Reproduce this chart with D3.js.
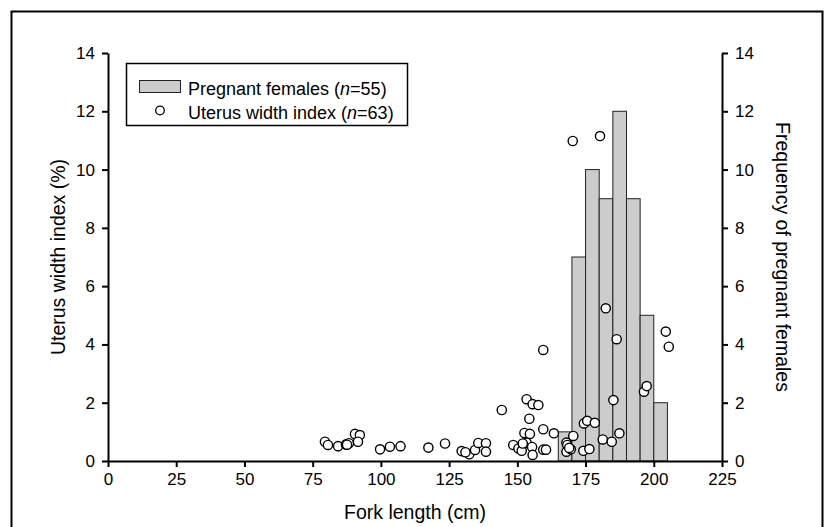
<!DOCTYPE html>
<html>
<head>
<meta charset="utf-8">
<script src="https://cdn.jsdelivr.net/npm/d3@7"></script>
<style>
  body { margin: 0; background: #fff; }
  svg { display: block; font-family: "Liberation Sans", Arial, sans-serif; }
</style>
</head>
<body>
<svg id="chart" width="825" height="527"></svg>
<script>
// ---- data ----
const binStarts = [165, 170, 175, 180, 185, 190, 195, 200];
const binWidth = 5;
const binCounts = [1, 7, 10, 9, 12, 9, 5, 2];

const forkLength = [
  79.5, 80.6, 84.3, 87.2, 88.3, 90.5, 92.3, 91.6,
  99.7, 103.3, 107.2, 117.4, 123.5,
  129.6, 132.4, 134.5, 135.7, 138.5, 138.5,
  144.3, 148.5, 150.4, 151.6, 153.4, 155.6, 157.7, 154.4,
  152.6, 154.6, 153.4, 155.4, 155.6, 159.5, 163.4, 159.5, 160.5, 159.5,
  168.0, 168.0, 169.6, 170.5, 168.3, 170.3, 180.3,
  174.4, 175.6, 178.4, 174.2, 176.4, 181.3, 184.6, 187.4, 185.2,
  196.4, 197.4, 182.4, 186.4, 204.4, 205.5,
  152.0, 169.0, 87.6, 131.0
];
const uterusIndex = [
  0.66, 0.55, 0.51, 0.57, 0.61, 0.93, 0.89, 0.66,
  0.40, 0.49, 0.51, 0.46, 0.60,
  0.34, 0.23, 0.38, 0.62, 0.61, 0.32,
  1.75, 0.55, 0.43, 0.35, 2.12, 1.95, 1.92, 1.45,
  0.96, 0.93, 0.63, 0.48, 0.21, 1.09, 0.95, 0.39, 0.39, 3.81,
  0.63, 0.32, 0.40, 0.86, 0.55, 10.98, 11.15,
  1.29, 1.38, 1.31, 0.35, 0.41, 0.74, 0.66, 0.95, 2.09,
  2.38, 2.57, 5.24, 4.18, 4.44, 3.92,
  0.60, 0.45, 0.56, 0.30
];

const xTicks = [0, 25, 50, 75, 100, 125, 150, 175, 200, 225];
const yTicks = [0, 2, 4, 6, 8, 10, 12, 14];

const xLabel = "Fork length (cm)";
const yLeftLabel = "Uterus width index (%)";
const yRightLabel = "Frequency of pregnant females";

// ---- layout ----
const svg = d3.select("#chart");
const margin = { left: 108, right: 103, top: 53, bottom: 66 };
const W = 825, H = 527;

const x = d3.scaleLinear().domain([0, 225]).range([margin.left, W - margin.right]);
const yL = d3.scaleLinear().domain([0, 14]).range([H - margin.bottom, margin.top]);
const yR = d3.scaleLinear().domain([0, 14]).range([H - margin.bottom, margin.top]);

// frame
svg.append("rect")
  .attr("x", 11.5).attr("y", 11.5)
  .attr("width", 811).attr("height", 540)
  .attr("fill", "none").attr("stroke", "#000").attr("stroke-width", 2);

// histogram bars
svg.append("g").selectAll("rect")
  .data(binStarts.map((s, i) => ({ s, c: binCounts[i] })))
  .join("rect")
  .attr("x", d => x(d.s))
  .attr("y", d => yR(d.c))
  .attr("width", d => x(d.s + binWidth) - x(d.s))
  .attr("height", d => yR(0) - yR(d.c))
  .attr("fill", "#cccccc")
  .attr("stroke", "#222")
  .attr("stroke-width", 1);

// points
svg.append("g").selectAll("circle")
  .data(forkLength.map((f, i) => ({ f, u: uterusIndex[i] })))
  .join("circle")
  .attr("cx", d => x(d.f))
  .attr("cy", d => yL(d.u))
  .attr("r", 4.6)
  .attr("fill", "#fff")
  .attr("stroke", "#000")
  .attr("stroke-width", 1.4);

// axes
function styleAxis(g) {
  g.selectAll(".domain").attr("stroke", "#000").attr("stroke-width", 2);
  g.selectAll(".tick line").attr("stroke", "#000").attr("stroke-width", 2);
  g.selectAll(".tick text").attr("fill", "#000").attr("font-size", 17)
    .attr("font-family", "'Liberation Sans', Arial, sans-serif");
}

svg.append("g")
  .attr("transform", `translate(0,${yL(0)})`)
  .call(d3.axisBottom(x).tickValues(xTicks).tickSize(6).tickSizeOuter(0).tickPadding(6))
  .call(styleAxis);

svg.append("g")
  .attr("transform", `translate(${x(0)},0)`)
  .call(d3.axisLeft(yL).tickValues(yTicks).tickSize(6).tickSizeOuter(0).tickPadding(7))
  .call(styleAxis);

svg.append("g")
  .attr("transform", `translate(${x(225)},0)`)
  .call(d3.axisRight(yR).tickValues(yTicks).tickSize(6).tickSizeOuter(0).tickPadding(7))
  .call(styleAxis);

// axis titles
svg.append("text")
  .attr("x", (x(0) + x(225)) / 2).attr("y", 519)
  .attr("text-anchor", "middle").attr("font-size", 19.5)
  .text(xLabel);

svg.append("text")
  .attr("transform", `translate(65,${(yL(0) + yL(14)) / 2}) rotate(-90)`)
  .attr("text-anchor", "middle").attr("font-size", 19.5)
  .text(yLeftLabel);

svg.append("text")
  .attr("transform", `translate(776,${(yL(0) + yL(14)) / 2}) rotate(90)`)
  .attr("text-anchor", "middle").attr("font-size", 19.5)
  .text(yRightLabel);

// legend
const lg = svg.append("g");
const box = lg.append("rect")
  .attr("x", 126.5).attr("y", 63.5).attr("height", 62)
  .attr("fill", "#fff").attr("stroke", "#000").attr("stroke-width", 1.5);
lg.append("rect")
  .attr("x", 139.5).attr("y", 80.5).attr("width", 41).attr("height", 12)
  .attr("fill", "#cccccc").attr("stroke", "#222").attr("stroke-width", 1);
lg.append("circle")
  .attr("cx", 160).attr("cy", 110.5).attr("r", 4.3)
  .attr("fill", "#fff").attr("stroke", "#000").attr("stroke-width", 1.3);

const t1 = lg.append("text").attr("x", 188).attr("y", 94.5).attr("font-size", 18);
t1.append("tspan").text("Pregnant females (");
t1.append("tspan").attr("font-style", "italic").text("n");
t1.append("tspan").text("=55)");

const t2 = lg.append("text").attr("x", 188).attr("y", 118.5).attr("font-size", 18);
t2.append("tspan").text("Uterus width index (");
t2.append("tspan").attr("font-style", "italic").text("n");
t2.append("tspan").text("=63)");

const textEnd = Math.max(t1.node().getBBox().x + t1.node().getBBox().width,
                         t2.node().getBBox().x + t2.node().getBBox().width);
box.attr("width", Math.round(textEnd + 14 - 126.5));
</script>
</body>
</html>
